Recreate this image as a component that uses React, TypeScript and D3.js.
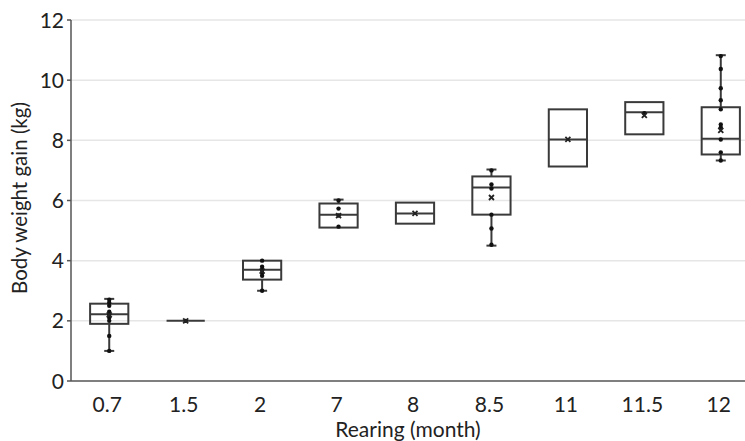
import React from 'react'
import * as d3 from 'd3'

// rearing months on the x axis
const categories = ['0.7', '1.5', '2', '7', '8', '8.5', '11', '11.5', '12']
// box statistics per category
const mins = [1.0, 2.0, 3.0, 5.1, 5.23, 4.5, 7.13, 8.2, 7.33]
const q1s = [1.9, 2.0, 3.37, 5.1, 5.23, 5.53, 7.13, 8.2, 7.53]
const medians = [2.22, 2.0, 3.7, 5.53, 5.57, 6.43, 8.03, 8.93, 8.05]
const q3s = [2.57, 2.0, 4.0, 5.9, 5.93, 6.8, 9.03, 9.27, 9.1]
const maxs = [2.73, 2.0, 4.0, 6.03, 5.93, 7.03, 9.03, 9.27, 10.83]
const means = [2.2, 2.0, 3.65, 5.5, 5.57, 6.1, 8.03, 8.83, 8.33]
// individual observations
const points = [
  [2.7, 2.6, 2.5, 2.3, 2.2, 2.1, 2.0, 1.5, 1.0],
  [2.0],
  [4.0, 3.8, 3.7, 3.6, 3.5, 3.0],
  [6.0, 5.73, 5.5, 5.13],
  [],
  [7.0, 6.53, 6.4, 5.53, 5.07, 4.53],
  [],
  [8.9],
  [10.8, 10.37, 9.73, 9.33, 9.03, 8.53, 8.43, 8.03, 7.6, 7.33],
]
const yTicks = [0, 2, 4, 6, 8, 10, 12]

const W = 745
const H = 441
const left = 71
const top = 20
const bottom = 381
const font = 'Lato, "Open Sans", sans-serif'

export default function App() {
  const x = d3.scaleBand().domain(categories).range([left, 759]).padding(0)
  const y = d3.scaleLinear().domain([0, 12]).range([bottom, top])
  const bw = x.bandwidth() * 0.5
  const cap = 5
  const stroke = '#3a3a3a'

  return (
    <svg width={W} height={H} style={{ position: 'absolute', left: 0, top: 0, background: '#fff' }}>
      {/* grid */}
      {yTicks.filter(t => t > 0).map(t => (
        <line key={'g' + t} x1={left} x2={W} y1={y(t)} y2={y(t)} stroke="#e6e6e6" strokeWidth={1.5} />
      ))}
      {/* axes */}
      <line x1={left} x2={left} y1={top} y2={bottom} stroke="#555" strokeWidth={1.5} />
      <line x1={left} x2={W} y1={bottom} y2={bottom} stroke="#555" strokeWidth={1.5} />
      {yTicks.map(t => (
        <g key={'t' + t}>
          <line x1={left - 4} x2={left} y1={y(t)} y2={y(t)} stroke="#555" strokeWidth={1.5} />
          <text x={left - 7} y={y(t)} dy="0.36em" textAnchor="end" fontFamily={font} fontSize={21} fill="#222">{t}</text>
        </g>
      ))}
      {categories.map(c => (
        <text key={'c' + c} x={x(c)! + x.bandwidth() / 2 - 2} y={412} textAnchor="middle" fontFamily={font} fontSize={21} fill="#222">{c}</text>
      ))}
      <text x={408} y={437} textAnchor="middle" fontFamily={font} fontSize={21} fill="#222">Rearing (month)</text>
      <text transform={`translate(27,${198}) rotate(-90)`} textAnchor="middle" fontFamily={font} fontSize={20.5} fill="#222">Body weight gain (kg)</text>

      {/* boxes */}
      {categories.map((c, i) => {
        const cx = x(c)! + x.bandwidth() / 2
        const x0 = cx - bw / 2
        return (
          <g key={'b' + c} stroke={stroke} strokeWidth={2} fill="none">
            {maxs[i] > q3s[i] && (
              <>
                <line x1={cx} x2={cx} y1={y(q3s[i])} y2={y(maxs[i])} />
                <line x1={cx - cap} x2={cx + cap} y1={y(maxs[i])} y2={y(maxs[i])} />
              </>
            )}
            {mins[i] < q1s[i] && (
              <>
                <line x1={cx} x2={cx} y1={y(q1s[i])} y2={y(mins[i])} />
                <line x1={cx - cap} x2={cx + cap} y1={y(mins[i])} y2={y(mins[i])} />
              </>
            )}
            <rect x={x0} y={y(q3s[i])} width={bw} height={y(q1s[i]) - y(q3s[i])} />
            <line x1={x0} x2={x0 + bw} y1={y(medians[i])} y2={y(medians[i])} />
            {points[i].map((p, j) => (
              <circle key={j} cx={cx} cy={y(p)} r={2.2} fill="#111" stroke="none" />
            ))}
            <g transform={`translate(${cx},${y(means[i])})`} stroke="#222" strokeWidth={1.8}>
              <line x1={-2.5} x2={2.5} y1={-2.5} y2={2.5} />
              <line x1={-2.5} x2={2.5} y1={2.5} y2={-2.5} />
            </g>
          </g>
        )
      })}
    </svg>
  )
}
